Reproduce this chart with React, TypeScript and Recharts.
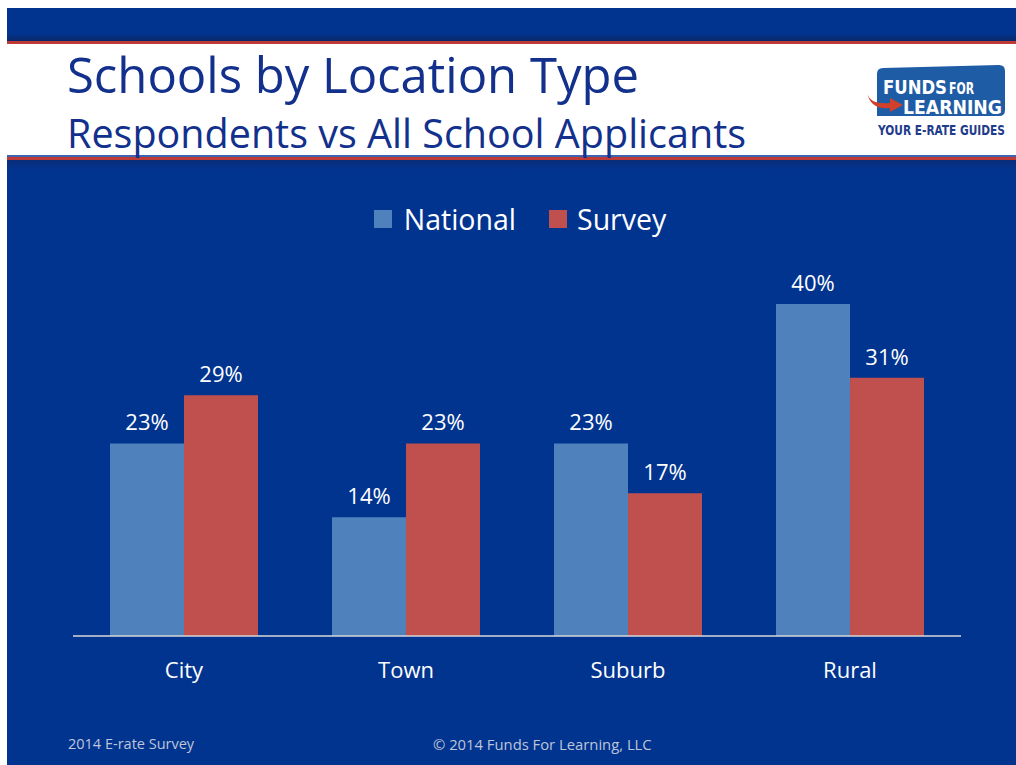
import React from 'react'
import { BarChart, Bar, XAxis, YAxis, Legend, LabelList } from 'recharts'

const categories = ['City', 'Town', 'Suburb', 'Rural']
const nationalValues = [23.2, 14.3, 23.2, 40.0]
const surveyValues = [29.0, 23.2, 17.2, 31.1]

const data = categories.map((name, i) => ({
  name,
  national: nationalValues[i],
  survey: surveyValues[i],
}))

const SLIDE_BLUE = '#01348F'
const NATIONAL = '#4F81BD'
const SURVEY = '#C0504D'
const FONT = '"Open Sans", "Noto Sans", sans-serif'
const NARROW = '"Liberation Sans Narrow", "DejaVu Sans Condensed", sans-serif'

const pct = (v: any) => `${Math.round(Number(v))}%`

const CategoryTick = (props: any) => (
  <text x={props.x} y={props.y + 42} textAnchor="middle" fill="#ffffff" fontSize={22} fontFamily={FONT}>
    {props.payload.value}
  </text>
)

const LegendContent = (props: any) => (
  <div style={{ display: 'flex', justifyContent: 'center', paddingLeft: 24, fontFamily: FONT }}>
    {(props.payload || []).map((item: any, i: number) => (
      <div key={item.value} style={{ display: 'flex', alignItems: 'center', marginLeft: i ? 33 : 0 }}>
        <span style={{ width: 18, height: 18, background: item.color, display: 'inline-block', marginRight: i ? 10 : 12 }} />
        <span style={{ color: '#fff', fontSize: 28.5, lineHeight: '36px' }}>{item.value}</span>
      </div>
    ))}
  </div>
)

// small copy of the company mark drawn with svg shapes
const Logo = () => (
  <svg width={154} height={85} style={{ position: 'absolute', left: 862, top: 58 }}>
    <path d="M15 16 Q15 10 21 10 L137 7 Q143 7 143 13 L143 52 Q143 58 137 58 L15 58 Z" fill="#1F5CA6" />
    <text x={21} y={36} fill="#fff" fontFamily={NARROW} fontWeight={700} fontSize={19} textLength={64} lengthAdjust="spacingAndGlyphs">FUNDS</text>
    <text x={87} y={36} fill="#fff" fontFamily={NARROW} fontWeight={700} fontSize={15} textLength={25} lengthAdjust="spacingAndGlyphs">FOR</text>
    <text x={41} y={56} fill="#fff" fontFamily={NARROW} fontWeight={700} fontSize={19} textLength={99} lengthAdjust="spacingAndGlyphs">LEARNING</text>
    <path d="M5 34 Q7 47 28 45 L28 40 L41 47 L28 54 L28 50 Q8 52 5 34 Z" fill="#D0402A" />
    <g transform="translate(16 77) scale(0.83 1)">
      <text x={0} y={0} fill="#1F3C8C" fontFamily={NARROW} fontWeight={700} fontSize={14} textLength={153} lengthAdjust="spacingAndGlyphs">YOUR E-RATE GUIDES</text>
    </g>
  </svg>
)

export default function App() {
  return (
    <div style={{ position: 'fixed', left: 0, top: 0, width: 1016, height: 765, background: '#fff', overflow: 'hidden', fontFamily: FONT }}>
      <div style={{ position: 'absolute', left: 7, top: 8, width: 1009, height: 33, background: `linear-gradient(${SLIDE_BLUE} 0%, ${SLIDE_BLUE} 78%, #0B2766 100%)` }} />
      <div style={{ position: 'absolute', left: 7, top: 41, width: 1009, height: 3, background: '#BE3A36' }} />
      <div style={{ position: 'absolute', left: 7, top: 155, width: 1009, height: 2, background: '#3F63AE' }} />
      <div style={{ position: 'absolute', left: 7, top: 157, width: 1009, height: 3, background: '#BE3A36' }} />
      <div style={{ position: 'absolute', left: 7, top: 160, width: 1009, height: 605, background: `linear-gradient(#0A2C7A 0px, ${SLIDE_BLUE} 10px)` }} />

      <div style={{ position: 'absolute', left: 67, top: 44, color: '#12308C', fontSize: 49, lineHeight: '60px', whiteSpace: 'nowrap' }}>
        Schools by Location Type
      </div>
      <div style={{ position: 'absolute', left: 67, top: 111, color: '#12308C', fontSize: 39.5, lineHeight: '44px', whiteSpace: 'nowrap' }}>
        Respondents vs All School Applicants
      </div>
      <Logo />

      <div style={{ position: 'absolute', left: 0, top: 0 }}>
        <BarChart
          width={1016}
          height={765}
          data={data}
          margin={{ top: 262.5, right: 55, bottom: 99, left: 73 }}
          barCategoryGap="16.67%"
          barGap={0}
        >
          <XAxis
            dataKey="name"
            height={30}
            axisLine={{ stroke: '#D9D9D9', strokeWidth: 1.5 }}
            tickLine={false}
            tickSize={0}
            tickMargin={0}
            tick={<CategoryTick />}
            interval={0}
          />
          <YAxis hide domain={[0, 45]} />
          <Legend
            layout="horizontal"
            verticalAlign="middle"
            align="center"
            content={<LegendContent />}
            wrapperStyle={{ top: 201, left: 0, width: 1016 }}
          />
          <Bar dataKey="national" name="National" fill={NATIONAL} isAnimationActive={false}>
            <LabelList dataKey="national" position="top" offset={13} formatter={pct} fill="#fff" fontSize={22} fontFamily={FONT} />
          </Bar>
          <Bar dataKey="survey" name="Survey" fill={SURVEY} isAnimationActive={false}>
            <LabelList dataKey="survey" position="top" offset={13} formatter={pct} fill="#fff" fontSize={22} fontFamily={FONT} />
          </Bar>
        </BarChart>
      </div>

      <div style={{ position: 'absolute', left: 68, top: 734, color: '#BFC5DA', fontSize: 14.5, lineHeight: '20px', whiteSpace: 'nowrap' }}>
        2014 E-rate Survey
      </div>
      <div style={{ position: 'absolute', left: 433, top: 734, color: '#BFC5DA', fontSize: 14.8, lineHeight: '20px', whiteSpace: 'nowrap' }}>
        © 2014 Funds For Learning, LLC
      </div>
    </div>
  )
}
